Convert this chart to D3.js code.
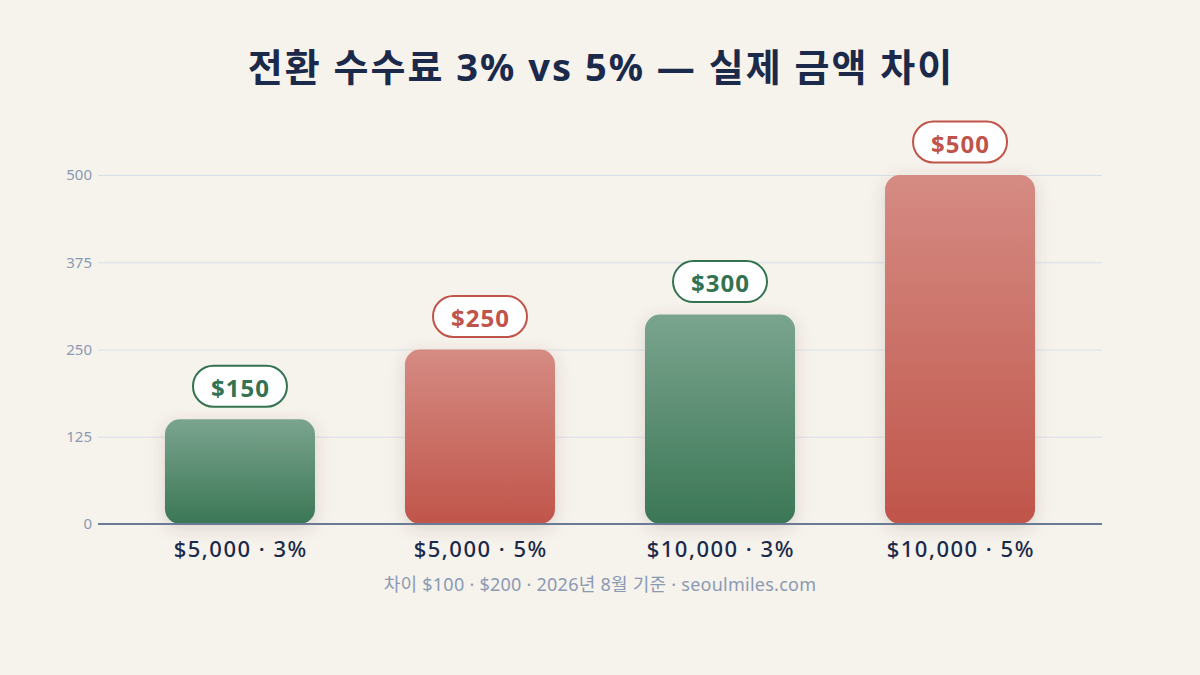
<!DOCTYPE html>
<html>
<head>
<meta charset="utf-8">
<script src="https://cdn.jsdelivr.net/npm/d3@7"></script>
<style>
    html, body { margin: 0; padding: 0; background: #f6f2ec; }
    svg { display: block; font-family: 'Noto Sans', 'Noto Sans CJK KR', sans-serif; }
</style>
</head>
<body>
<svg id="chart"></svg>
<script>
// Chart data.
const categories = ['$5,000 · 3%', '$5,000 · 5%', '$10,000 · 3%', '$10,000 · 5%'];
const fees = [150, 250, 300, 500];
const feeRates = ['3%', '5%', '3%', '5%'];
const yTicks = [0, 125, 250, 375, 500];

const title = '전환 수수료 3% vs 5% — 실제 금액 차이';
const footnote = '차이 $100 · $200 · 2026년 8월 기준 · seoulmiles.com';

const width = 1200;
const height = 675;
const margin = { top: 175, right: 98, bottom: 151, left: 98 };

const colors = {
    '3%': { top: '#7aa48e', bottom: '#3b7756', text: '#347352' },
    '5%': { top: '#d58b83', bottom: '#c0554a', text: '#c0544a' },
};

const svg = d3.select('#chart').attr('width', width).attr('height', height);

const x = d3
    .scaleBand()
    .domain(categories)
    .range([margin.left, width - margin.right])
    .paddingInner(0.375)
    .paddingOuter(0.279);

const y = d3
    .scaleLinear()
    .domain([0, 500])
    .range([height - margin.bottom, margin.top]);

// Gradients and shadow.
const defs = svg.append('defs');
Object.entries(colors).forEach(([key, c], i) => {
    const g = defs
        .append('linearGradient')
        .attr('id', `grad${i}`)
        .attr('x1', 0)
        .attr('y1', 0)
        .attr('x2', 0)
        .attr('y2', 1);
    g.append('stop').attr('offset', '0%').attr('stop-color', c.top);
    g.append('stop').attr('offset', '100%').attr('stop-color', c.bottom);
});
const gradId = rate => (rate === '3%' ? 'url(#grad0)' : 'url(#grad1)');

const shadow = defs
    .append('filter')
    .attr('id', 'shadow')
    .attr('x', '-30%')
    .attr('y', '-30%')
    .attr('width', '160%')
    .attr('height', '160%');
shadow
    .append('feDropShadow')
    .attr('dx', 0)
    .attr('dy', 4)
    .attr('stdDeviation', 8)
    .attr('flood-color', '#5a4a3a')
    .attr('flood-opacity', 0.18);

// Title.
svg.append('text')
    .attr('x', width / 2 + 1)
    .attr('y', 71)
    .attr('text-anchor', 'middle')
    .attr('dominant-baseline', 'middle')
    .attr('font-size', '38px')
    .attr('font-weight', 700)
    .attr('letter-spacing', '2px')
    .attr('fill', '#1b2a4a')
    .text(title);

// Gridlines and y axis labels.
const yAxis = svg
    .append('g')
    .attr('transform', `translate(${margin.left},0)`)
    .call(
        d3
            .axisLeft(y)
            .tickValues(yTicks)
            .tickSize(-(width - margin.left - margin.right))
            .tickPadding(6)
    );
yAxis.select('.domain').remove();
yAxis.selectAll('.tick line').attr('stroke', '#d9dfe8').attr('stroke-width', 1.2);
yAxis.selectAll('.tick text')
    .attr('fill', '#8a9ab3')
    .attr('font-size', '15px')
    .attr('font-family', "'Noto Sans', sans-serif");

// Bars.
svg.append('g')
    .selectAll('rect')
    .data(fees)
    .enter()
    .append('rect')
    .attr('x', (d, i) => x(categories[i]))
    .attr('y', d => y(d))
    .attr('width', x.bandwidth())
    .attr('height', d => y(0) - y(d))
    .attr('rx', 15)
    .attr('fill', (d, i) => gradId(feeRates[i]))
    .attr('filter', 'url(#shadow)');

// Baseline.
svg.append('line')
    .attr('x1', margin.left)
    .attr('x2', width - margin.right)
    .attr('y1', y(0))
    .attr('y2', y(0))
    .attr('stroke', '#6b7b96')
    .attr('stroke-width', 2);

// Value pills.
const pills = svg
    .append('g')
    .selectAll('g')
    .data(fees)
    .enter()
    .append('g')
    .attr('transform', (d, i) => `translate(${x(categories[i]) + x.bandwidth() / 2}, ${y(d) - 33})`);
pills.append('rect')
    .attr('x', -47)
    .attr('y', -20.5)
    .attr('width', 94)
    .attr('height', 41)
    .attr('rx', 20.5)
    .attr('fill', '#ffffff')
    .attr('stroke', (d, i) => colors[feeRates[i]].text)
    .attr('stroke-width', 2);
pills.append('text')
    .attr('text-anchor', 'middle')
    .attr('dominant-baseline', 'central')
    .attr('x', 0.5)
    .attr('y', 1)
    .attr('font-size', '24px')
    .attr('font-weight', 700)
    .attr('letter-spacing', '1px')
    .attr('fill', (d, i) => colors[feeRates[i]].text)
    .text(d => `$${d}`);

// Category labels.
svg.append('g')
    .selectAll('text')
    .data(categories)
    .enter()
    .append('text')
    .attr('x', d => x(d) + x.bandwidth() / 2 + 0.75)
    .attr('y', 551)
    .attr('text-anchor', 'middle')
    .attr('dominant-baseline', 'middle')
    .attr('font-size', '22px')
    .attr('font-weight', 500)
    .attr('letter-spacing', '1.5px')
    .attr('fill', '#1b2a4a')
    .text(d => d);

// Footnote.
svg.append('text')
    .attr('x', width / 2)
    .attr('y', 586)
    .attr('text-anchor', 'middle')
    .attr('dominant-baseline', 'middle')
    .attr('font-size', '18px')
    .attr('letter-spacing', '0.25px')
    .attr('fill', '#8a9ab3')
    .text(footnote);
</script>
</body>
</html>
